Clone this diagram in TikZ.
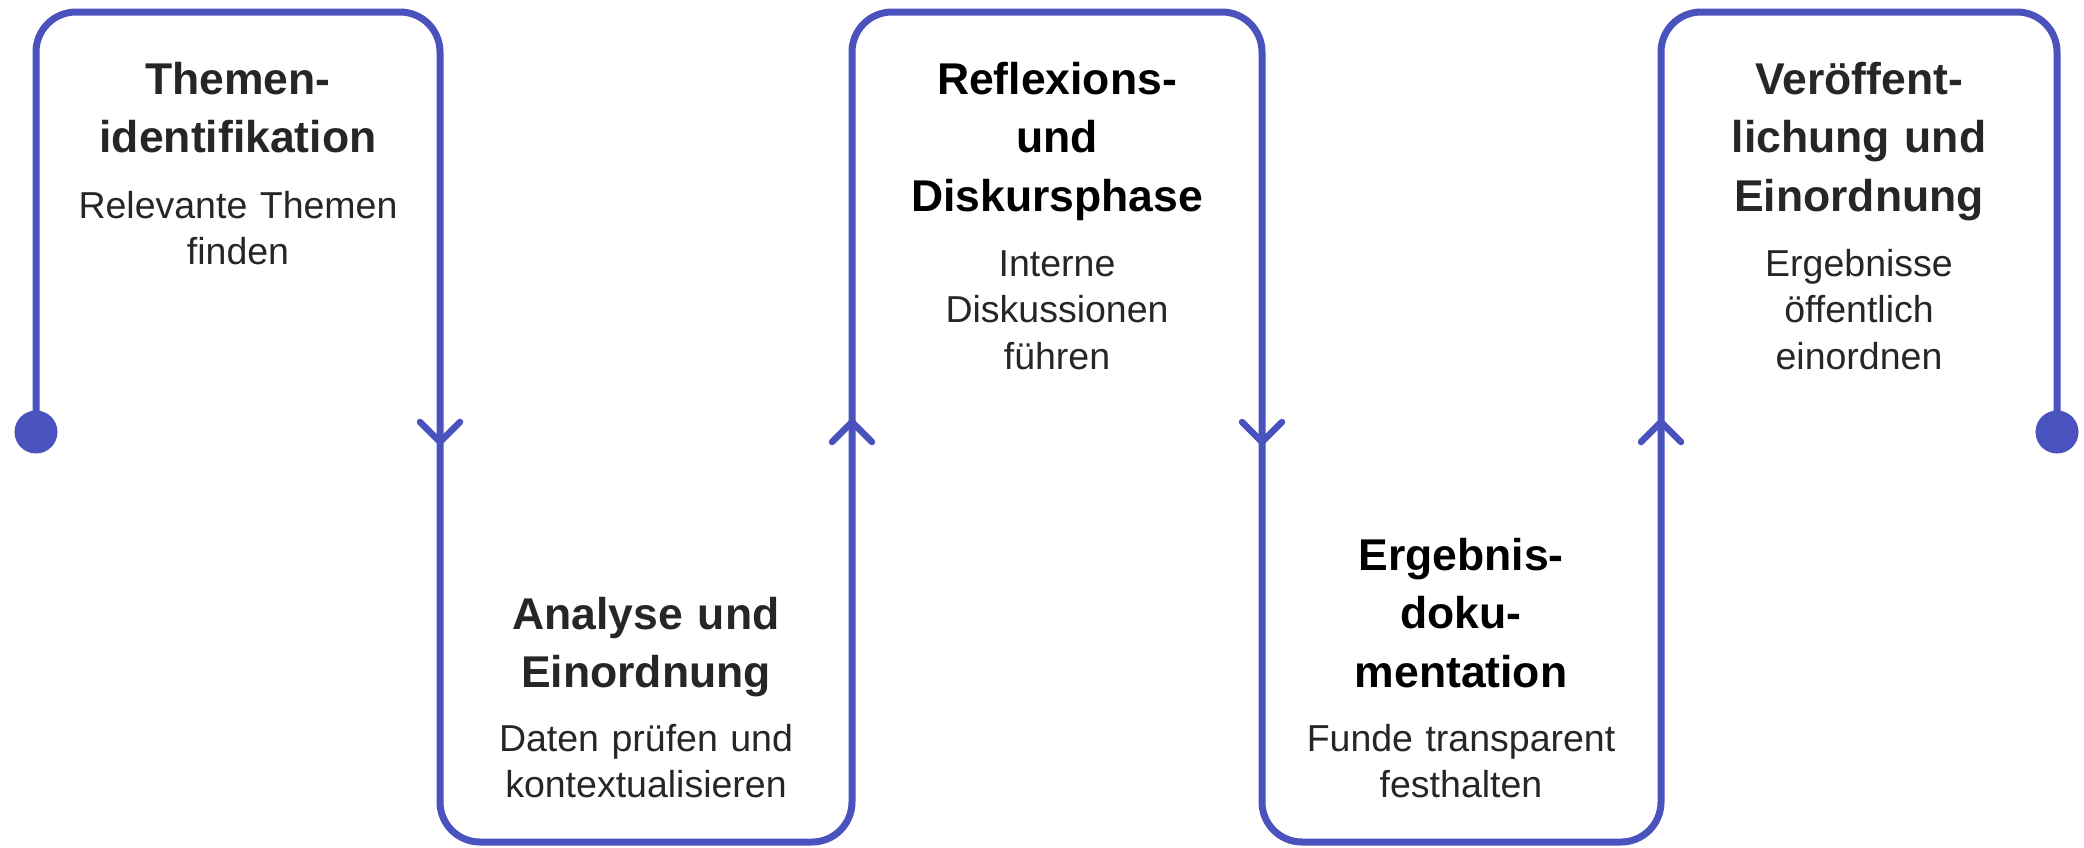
\documentclass[tikz,border=0pt]{standalone}
\usepackage{fontspec}
\setmainfont{Liberation Sans}
\definecolor{flow}{RGB}{74,82,190}
\definecolor{ink}{RGB}{38,38,38}
\begin{document}
\begin{tikzpicture}[x=1pt,y=-1pt,
  flowline/.style={draw=flow,line width=7pt,line cap=round,line join=round},
  chev/.style={draw=flow,line width=6.5pt,line cap=round,line join=round},
  dotend/.style={circle,fill=flow,inner sep=0pt,minimum size=43pt},
  ttl/.style={anchor=base,inner sep=0pt,text width=390pt,align=center,
    font=\fontsize{44.5}{58.5}\selectfont\bfseries,text=ink},
  ttlk/.style={ttl,text=black},
  sub/.style={anchor=base,inner sep=0pt,text width=390pt,align=center,
    font=\fontsize{37.5}{46.5}\selectfont,text=ink}]
\useasboundingbox (0,0) rectangle (2084,847);
% end points
\node[dotend] (start) at (36,432) {};
\node[dotend] (stop) at (2057,432) {};
% continuous flow line
\draw[flowline,rounded corners=40pt] (start.center) -- (36,12) -- (440,12) -- (440,842)
  -- (852,842) -- (852,12) -- (1262,12) -- (1262,842) -- (1661,842) -- (1661,12)
  -- (2057,12) -- (stop.center);
% direction chevrons
\coordinate (a1) at (440,442);
\coordinate (a2) at (852,422);
\coordinate (a3) at (1262,442);
\coordinate (a4) at (1661,422);
\draw[chev] ([shift={(-20,-20)}]a1) -- (a1) -- ([shift={(20,-20)}]a1);
\draw[chev] ([shift={(-20,20)}]a2) -- (a2) -- ([shift={(20,20)}]a2);
\draw[chev] ([shift={(-20,-20)}]a3) -- (a3) -- ([shift={(20,-20)}]a3);
\draw[chev] ([shift={(-20,20)}]a4) -- (a4) -- ([shift={(20,20)}]a4);
% texts
\node[ttl] (t1) at (238,94) {Themen-\\identifikation};
\node[sub] (s1) at (238,218) {Relevante Themen\\finden};
\node[ttl] (t2) at (646,629) {Analyse und\\Einordnung};
\node[sub] (s2) at (646,751) {Daten prüfen und\\kontextualisieren};
\node[ttlk] (t3) at (1057,94) {Reflexions-\\und\\Diskursphase};
\node[sub] (s3) at (1057,276) {Interne\\Diskussionen\\führen};
\node[ttlk] (t4) at (1461,570) {Ergebnis-\\doku-\\mentation};
\node[sub] (s4) at (1461,751) {Funde transparent\\festhalten};
\node[ttl] (t5) at (1859,94) {Veröffent-\\lichung und\\Einordnung};
\node[sub] (s5) at (1859,276) {Ergebnisse\\öffentlich\\einordnen};
\end{tikzpicture}
\end{document}
